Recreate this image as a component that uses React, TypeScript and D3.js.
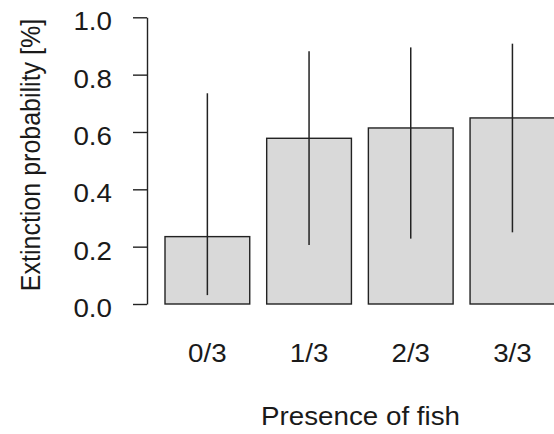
import * as d3 from "d3";
import { useEffect, useRef } from "react";

const categories = ["0/3", "1/3", "2/3", "3/3"];
const means = [0.235, 0.578, 0.614, 0.649];
const lower = [0.031, 0.206, 0.228, 0.25];
const upper = [0.735, 0.882, 0.895, 0.908];
const yTicks = [0, 0.2, 0.4, 0.6, 0.8, 1.0];

const W = 554;
const H = 434;
const FONT = "'Liberation Sans', Arial, sans-serif";
const SX = 1.11; // reference is a bit stretched horizontally

const App = () => {
  const ref = useRef<SVGSVGElement>(null);

  useEffect(() => {
    const svg = d3.select(ref.current);
    svg.selectAll("*").remove();

    const x = d3
      .scaleBand()
      .domain(categories)
      .range([165, 554.8])
      .paddingInner(0.2 / 1.2)
      .paddingOuter(0);

    const y = d3.scaleLinear().domain([0, 1]).range([304, 17.3]);

    const rows = categories.map((c, i) => ({
      cat: c,
      mean: means[i],
      lo: lower[i],
      hi: upper[i],
    }));

    svg.append("rect").attr("width", W).attr("height", H).attr("fill", "#fff");

    // bars
    svg
      .append("g")
      .selectAll("rect")
      .data(rows)
      .join("rect")
      .attr("x", (d) => x(d.cat)!)
      .attr("y", (d) => y(d.mean))
      .attr("width", x.bandwidth())
      .attr("height", (d) => y(0) - y(d.mean))
      .attr("fill", "#d9d9d9")
      .attr("stroke", "#222")
      .attr("stroke-width", 1.4);

    // error lines
    svg
      .append("g")
      .selectAll("line")
      .data(rows)
      .join("line")
      .attr("x1", (d) => x(d.cat)! + x.bandwidth() / 2)
      .attr("x2", (d) => x(d.cat)! + x.bandwidth() / 2)
      .attr("y1", (d) => y(d.lo))
      .attr("y2", (d) => y(d.hi))
      .attr("stroke", "#222")
      .attr("stroke-width", 1.5);

    // y axis
    const yAxis = d3
      .axisLeft(y)
      .tickValues(yTicks)
      .tickSize(14)
      .tickSizeOuter(0)
      .tickPadding(0)
      .tickFormat(d3.format(".1f"));

    const ga = svg
      .append("g")
      .attr("transform", "translate(147,0)")
      .call(yAxis);
    ga.selectAll("path, line").attr("stroke", "#222").attr("stroke-width", 1.4);
    ga.selectAll("text").remove();

    svg
      .append("g")
      .selectAll("text")
      .data(yTicks)
      .join("text")
      .attr("transform", (d) => `translate(112,${y(d) + 13}) scale(${SX},1)`)
      .attr("text-anchor", "end")
      .attr("font-family", FONT)
      .attr("font-size", 25)
      .attr("fill", "#1a1a1a")
      .text((d) => d3.format(".1f")(d));

    // x labels
    svg
      .append("g")
      .selectAll("text")
      .data(categories)
      .join("text")
      .attr(
        "transform",
        (d) => `translate(${x(d)! + x.bandwidth() / 2},361.5) scale(${SX},1)`
      )
      .attr("text-anchor", "middle")
      .attr("font-family", FONT)
      .attr("font-size", 25)
      .attr("fill", "#1a1a1a")
      .text((d) => d);

    svg
      .append("text")
      .attr("transform", `translate(360.5,425) scale(${SX},1)`)
      .attr("text-anchor", "middle")
      .attr("font-family", FONT)
      .attr("font-size", 25)
      .attr("fill", "#1a1a1a")
      .text("Presence of fish");

    svg
      .append("text")
      .attr("transform", `translate(40,155) scale(${SX},1) rotate(-90)`)
      .attr("text-anchor", "middle")
      .attr("font-family", FONT)
      .attr("font-size", 25)
      .attr("fill", "#1a1a1a")
      .text("Extinction probability [%]");
  }, []);

  return (
    <svg
      ref={ref}
      width={W}
      height={H}
      style={{ position: "absolute", left: 0, top: 0, display: "block" }}
    />
  );
};

export default App;
